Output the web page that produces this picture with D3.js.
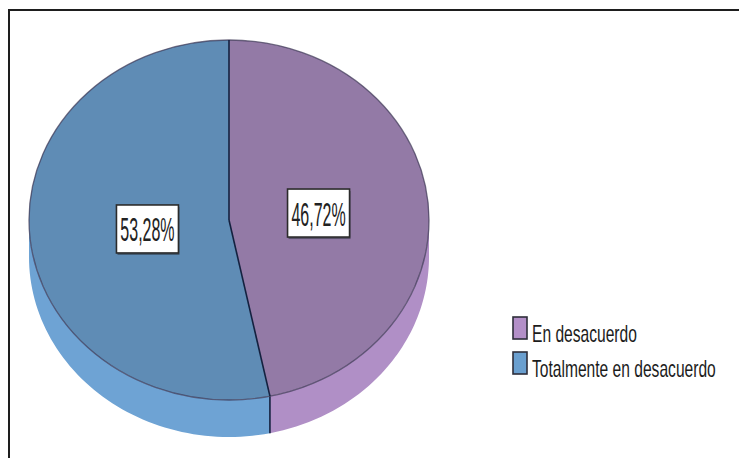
<!DOCTYPE html>
<html>
<head>
<meta charset="utf-8">
<script src="https://cdn.jsdelivr.net/npm/d3@7"></script>
<style>
  html, body { margin: 0; padding: 0; background: #ffffff; }
  svg { display: block; }
  text { font-family: "Liberation Sans", Arial, sans-serif; }
</style>
</head>
<body>
<svg id="chart" width="739" height="458"></svg>
<script>
// Responses and their shares (percent)
const categories = ["En desacuerdo", "Totalmente en desacuerdo"];
const values = [46.72, 53.28];
const valueLabels = ["46,72%", "53,28%"];

// Top face, extruded side, and legend swatch colours per category
const topColors = ["#937aa6", "#5f8cb5"];
const sideColors = ["#b08fc6", "#6ea3d4"];
const swatchColors = ["#b38fc8", "#6a9fcf"];

const W = 739, H = 458;
const cx = 229, cy = 220, rx = 200, ry = 180, depth = 37;
const k = ry / rx;

const svg = d3.select("#chart");

// Outer frame
svg.append("rect")
  .attr("x", 9).attr("y", 10)
  .attr("width", W + 10).attr("height", H + 10)
  .attr("fill", "none")
  .attr("stroke", "#1e1e1e")
  .attr("stroke-width", 2);

const pie = d3.pie().sort(null).value(d => d).startAngle(0).endAngle(2 * Math.PI);
const arcs = pie(values);

// Point on the tilted ellipse for a pie angle (0 = top, clockwise)
const pt = (a, r, dy = 0) => [cx + r * Math.sin(a), cy - r * Math.cos(a) * k + dy];

// Side wall: only the front half (angles between pi/2 and 3pi/2) is visible
const sideG = svg.append("g");
const line = d3.line();
arcs.forEach((a, i) => {
  const s = Math.max(a.startAngle, Math.PI / 2);
  const e = Math.min(a.endAngle, 3 * Math.PI / 2);
  if (e <= s) return;
  const angles = d3.range(0, 61).map(j => s + (e - s) * j / 60);
  const topPts = angles.map(t => pt(t, rx));
  const botPts = angles.slice().reverse().map(t => pt(t, rx, depth));
  sideG.append("path")
    .attr("d", line(topPts.concat(botPts)) + "Z")
    .attr("fill", sideColors[i]);
});

// Seam between the two slices on the side wall
{
  const a = arcs[0].endAngle;
  const p = pt(a, rx);
  sideG.append("line")
    .attr("x1", p[0]).attr("y1", p[1])
    .attr("x2", p[0]).attr("y2", p[1] + depth)
    .attr("stroke", "#14213f").attr("stroke-width", 1.6);
}

// Top face
const arc = d3.arc().innerRadius(0).outerRadius(rx);
const topG = svg.append("g")
  .attr("transform", `translate(${cx},${cy}) scale(1,${k})`);
topG.selectAll("path.slice")
  .data(arcs)
  .join("path")
  .attr("class", "slice")
  .attr("d", arc)
  .attr("fill", (d, i) => topColors[i]);

// Rim of the top face
topG.append("ellipse")
  .attr("cx", 0).attr("cy", 0).attr("rx", rx).attr("ry", rx)
  .attr("fill", "none")
  .attr("stroke", "#3b3552")
  .attr("stroke-opacity", 0.7)
  .attr("stroke-width", 1.3)
  .attr("vector-effect", "non-scaling-stroke");

// Radial dividers from the centre
arcs.forEach(a => {
  const p = pt(a.startAngle, rx);
  svg.append("line")
    .attr("x1", cx).attr("y1", cy)
    .attr("x2", p[0]).attr("y2", p[1])
    .attr("stroke", "#14213f").attr("stroke-width", 1.6);
});

// Value labels in white boxes (glyphs stretched vertically)
const labelR = rx * 0.43;
arcs.forEach((a, i) => {
  const mid = (a.startAngle + a.endAngle) / 2;
  const [lx, ly] = pt(mid, labelR);
  const x = lx + 4, y = ly + 1;
  const bw = 62, bh = 48;
  const g = svg.append("g");
  g.append("rect")
    .attr("x", x - bw / 2 + 1).attr("y", y - bh / 2 + 2)
    .attr("width", bw).attr("height", bh)
    .attr("fill", "#2a2f3a").attr("opacity", 0.55);
  g.append("rect")
    .attr("x", x - bw / 2).attr("y", y - bh / 2)
    .attr("width", bw).attr("height", bh)
    .attr("fill", "#ffffff")
    .attr("stroke", "#2b2b2b").attr("stroke-width", 1.6);
  g.append("text")
    .attr("transform", `translate(${x},${y + 12.5}) scale(1,2.1)`)
    .attr("text-anchor", "middle")
    .attr("font-size", 16)
    .attr("fill", "#222222")
    .text(valueLabels[i]);
});

// Legend
const legendX = 513, legendY = 317, rowH = 35;
const lg = svg.append("g");
categories.forEach((c, i) => {
  const y = legendY + i * rowH;
  lg.append("rect")
    .attr("x", legendX).attr("y", y)
    .attr("width", 14).attr("height", 22)
    .attr("fill", swatchColors[i])
    .attr("stroke", "#2e2e3a").attr("stroke-width", 1.6);
  lg.append("text")
    .attr("transform", `translate(${legendX + 19},${y + 25}) scale(1,1.5)`)
    .attr("font-size", 15.6)
    .attr("fill", "#1c1c1c")
    .text(c);
});
</script>
</body>
</html>
